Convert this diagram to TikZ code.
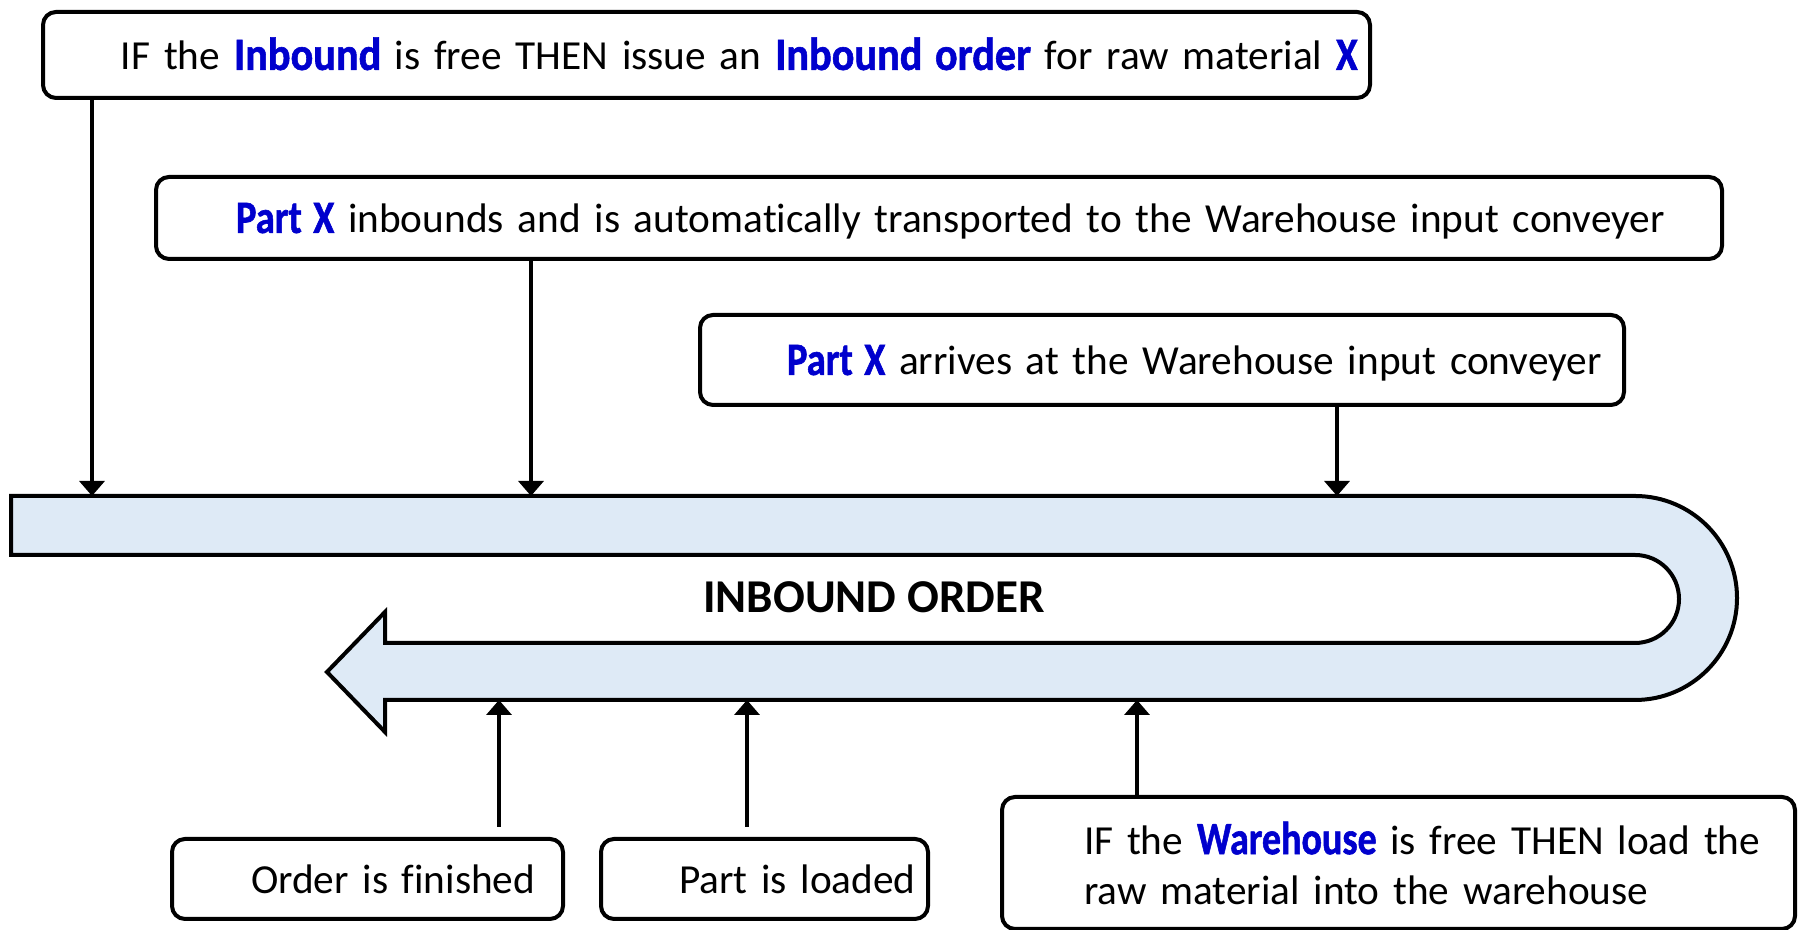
\documentclass[tikz,border=0pt]{standalone}
\usepackage{fontspec}
\setmainfont{Carlito}[Ligatures={NoCommon}, WordSpace=0.7]
\newfontfamily\kwfont{Carlito}[UprightFont={* Bold}, FakeBold=1.3, Ligatures={NoCommon}]
\newfontfamily\titlefont{Carlito}[UprightFont={* Bold}]
\usetikzlibrary{arrows.meta}
\definecolor{kwblue}{RGB}{0,0,205}
\definecolor{bandfill}{RGB}{222,234,246}
% emphasised keywords: heavy, condensed, blue (optional horizontal squeeze)
\newcommand\kwd[2][0.88]{{\color{kwblue}\fontsize{13.2}{15}\kwfont\scalebox{#1}[1]{#2}}}

\begin{document}
\begin{tikzpicture}[x=0.1mm,y=0.1mm,
  rulebox/.style={draw, line width=0.4mm, rounded corners=1.3mm, inner sep=0pt,
    anchor=north west, align=left, font=\fontsize{11.75}{14.2}\selectfont},
  oneline/.style={text height=9pt, text depth=0.5pt},
  link/.style={line width=0.35mm, -{Triangle[width=2.5mm,length=1.5mm]}},
  band/.style={draw, line width=0.4mm, fill=bandfill, line join=miter}]
\useasboundingbox (0,0) rectangle (1800,930);

% U-shaped order band with its arrow head
\draw[band] (11,434) -- (1635,434) arc[start angle=90, end angle=-90, radius=102]
  -- (385,230) -- (385,198) -- (327,258) -- (385,318) -- (385,287) -- (1635,287)
  arc[start angle=-90, end angle=90, radius=44] -- (11,375) -- cycle;
\node[font=\fontsize{13.4}{16}\titlefont, anchor=base] (title) at (874,317) {INBOUND ORDER};

% rule and event boxes
\node[rulebox, oneline, text width=132.7mm, minimum height=8.6mm] (r1) at (41,920)
  {\mbox{\hspace*{7.8mm}IF the \kwd[0.91]{Inbound} is free THEN issue an \kwd[0.91]{Inbound order} for raw material \kwd[0.85]{X}}};
\node[rulebox, oneline, text width=156.6mm, minimum height=8.2mm] (r2) at (154,755)
  {\mbox{\hspace*{8.0mm}\kwd[0.83]{Part X} inbounds and is automatically transported to the Warehouse input conveyer}};
\node[rulebox, oneline, text width=92.4mm, minimum height=9.0mm] (r3) at (698,617)
  {\mbox{\hspace*{8.7mm}\kwd[0.83]{Part X} arrives at the Warehouse input conveyer}};
\node[rulebox, oneline, text width=39.1mm, minimum height=8.0mm] (r5) at (170,93)
  {\mbox{\hspace*{7.9mm}Order is finished}};
\node[rulebox, oneline, text width=32.7mm, minimum height=8.0mm] (r6) at (599,93)
  {\mbox{\hspace*{7.8mm}Part is loaded}};
\node[rulebox, text width=79.3mm, minimum height=13.2mm] (r4) at (1000,135)
  {\hspace*{8.2mm}IF the \kwd[0.82]{Warehouse} is free THEN load the\\
   \hspace*{8.2mm}raw material into the warehouse};

% attachment points on the band
\coordinate (d1) at (92,434);
\coordinate (d2) at (531,434);
\coordinate (d3) at (1337,434);
\coordinate (u1) at (499,230);
\coordinate (u2) at (747,230);
\coordinate (u3) at (1137,230);

\draw[link] (r1.south -| d1) -- (d1);
\draw[link] (r2.south -| d2) -- (d2);
\draw[link] (r3.south -| d3) -- (d3);
\draw[link] (r5.north -| u1) ++(0,10) -- (u1);
\draw[link] (r6.north -| u2) ++(0,10) -- (u2);
\draw[link] (r4.north -| u3) -- (u3);
\end{tikzpicture}
\end{document}
